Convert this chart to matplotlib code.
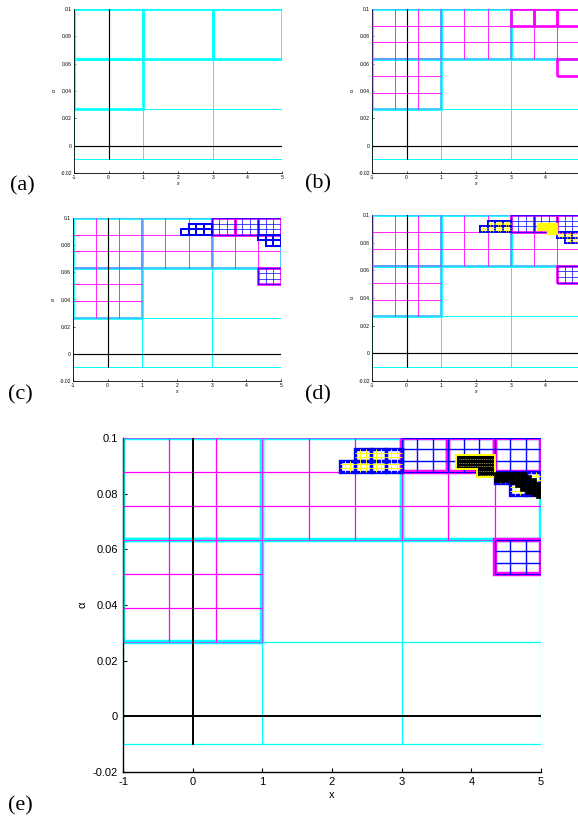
import numpy as np
import matplotlib
matplotlib.use("Agg")
import matplotlib.pyplot as plt
from matplotlib.collections import LineCollection
from matplotlib.patches import Rectangle

W, H = 578, 824

# ---------------- data ----------------
x_lo, x_hi = -1.0, 5.0          # level-0 domain
y_lo, y_hi = -0.01, 0.1
n0 = 3                           # level-0 cells per direction
ratio = 3                        # refinement ratio

xticks = [-1, 0, 1, 2, 3, 4, 5]
xticklabels = ["-1", "0", "1", "2", "3", "4", "5"]
yticks = [-0.02, 0, 0.02, 0.04, 0.06, 0.08, 0.1]
yticklabels = ["-0.02", "0", "0.02", "0.04", "0.06", "0.08", "0.1"]

# lower-left corners of level-1 patches (one level-0 cell each)
L1_x = [-1.0, -1.0, 1.0, 3.0]
L1_y = [0.026667, 0.063333, 0.063333, 0.063333]
# level-2 patches (one level-1 cell each)
L2_x = [3.0, 3.6667, 4.3333, 4.3333]
L2_y = [0.087778, 0.087778, 0.087778, 0.051111]
# level-3 patches (one level-2 cell each)
L3_x = [2.1111, 2.3333, 2.5556, 2.7778, 2.3333, 2.5556, 2.7778,
        4.3333, 4.5556, 4.7778, 4.5556, 4.7778]
L3_y = [0.087778, 0.087778, 0.087778, 0.087778, 0.091852, 0.091852, 0.091852,
        0.083704, 0.083704, 0.083704, 0.079630, 0.079630]
# level-4 patches (yellow framed region)
L4_x0 = [3.80, 4.09]
L4_x1 = [4.33, 4.33]
L4_y0 = [0.0891, 0.0862]
L4_y1 = [0.0934, 0.0891]
# finest (black) band on the right
band_x0 = [4.33, 4.56, 4.63, 4.70, 4.78, 4.85, 4.93]
band_x1 = [4.56, 4.63, 4.70, 4.78, 4.85, 4.93, 5.00]
band_y0 = [0.0843, 0.0835, 0.0823, 0.0811, 0.0800, 0.0792, 0.0784]
band_y1 = [0.0879, 0.0879, 0.0879, 0.0877, 0.0866, 0.0855, 0.0843]

panel_labels = ["(a)", "(b)", "(c)", "(d)", "(e)"]

# cell sizes per level
dx0 = (x_hi - x_lo) / n0
dy0 = (y_hi - y_lo) / n0
dxs = [dx0 / ratio**k for k in range(5)]
dys = [dy0 / ratio**k for k in range(5)]

CYAN, MAG, BLUE, YEL = "#00FFFF", "#FF00FF", "#0000FF", "#FFFF00"


def grid_lines(ax, xs, ys, dx, dy, n, color, lw, z, edge_lw=None):
    segs, esegs = [], []
    for x0, y0 in zip(xs, ys):
        for i in range(n + 1):
            xx = x0 + i * dx / n
            yy = y0 + i * dy / n
            tgt = esegs if i in (0, n) else segs
            tgt.append([(xx, y0), (xx, y0 + dy)])
            tgt.append([(x0, yy), (x0 + dx, yy)])
    ax.add_collection(LineCollection(segs, colors=color, linewidths=lw, zorder=z))
    if edge_lw:
        ax.add_collection(LineCollection(esegs, colors=color, linewidths=edge_lw, zorder=z))


def boxes(ax, xs, ys, dx, dy, color, lw, z):
    for x0, y0 in zip(xs, ys):
        ax.add_patch(Rectangle((x0, y0), dx, dy, fill=False, edgecolor=color,
                               linewidth=lw, zorder=z, joinstyle="miter"))


def panel(rect, stage, big, clip_right=False):
    ax = fig.add_axes(rect)
    s = 1.0 if big else 0.6
    # level-0 grid
    gx = [x_lo + i * dx0 for i in range(n0 + 1)]
    gy = [y_lo + i * dy0 for i in range(n0 + 1)]
    segs = [[(x, y_lo), (x, y_hi)] for x in gx] + [[(x_lo, y), (x_hi, y)] for y in gy]
    ax.add_collection(LineCollection(segs, colors=CYAN, linewidths=(0.9 if big else 0.7),
                                     zorder=1))
    # level-1 patches
    boxes(ax, L1_x, L1_y, dxs[0], dys[0], CYAN, 3.2 * s, 2)
    if stage >= 1:
        grid_lines(ax, L1_x, L1_y, dxs[0], dys[0], ratio, MAG, (0.9 if big else 0.6), 3,
                   edge_lw=(0.45 if big else 0.3))
        boxes(ax, L2_x, L2_y, dxs[1], dys[1], MAG, 3.2 * s, 4)
    if stage >= 2:
        grid_lines(ax, L2_x, L2_y, dxs[1], dys[1], ratio, BLUE, (1.0 if big else 0.5), 5,
                   edge_lw=(0.8 if big else 0.5))
        boxes(ax, L3_x, L3_y, dxs[2], dys[2], BLUE, 2.4 * s, 6)
    if stage >= 3:
        grid_lines(ax, L3_x, L3_y, dxs[2], dys[2], ratio, YEL, 0.7 * s, 7)
        for x0, x1, y0, y1 in zip(L4_x0, L4_x1, L4_y0, L4_y1):
            ax.add_patch(Rectangle((x0, y0), x1 - x0, y1 - y0, fill=(stage == 3),
                                   facecolor=YEL, edgecolor=YEL,
                                   linewidth=2.8 * s, zorder=8))
    if stage >= 4:
        for x0, x1, y0, y1 in zip(L4_x0, L4_x1, L4_y0, L4_y1):
            ax.add_patch(Rectangle((x0, y0), x1 - x0, y1 - y0, facecolor="black",
                                   edgecolor="none", zorder=9))
            ny = int(round((y1 - y0) / dys[3]))
            for j in range(ny):
                yy = y0 + (j + 0.5) * dys[3]
                ax.plot([x0 + 0.02, x1 - 0.02], [yy, yy], color="#b8b060", lw=0.7,
                        ls=(0, (0.8, 1.0)), zorder=10)
        for x0, x1, y0, y1 in zip(band_x0, band_x1, band_y0, band_y1):
            ax.add_patch(Rectangle((x0, y0), x1 - x0, y1 - y0, facecolor="black",
                                   edgecolor="black", linewidth=0.5, zorder=9))
    # coordinate axes
    ax.plot([0, 0], [y_lo, y_hi], color="black", lw=1.4 * s, zorder=11)
    ax.plot([x_lo, x_hi], [0, 0], color="black", lw=1.4 * s, zorder=11)

    ax.set_xlim(-1, 5)
    ax.set_ylim(-0.02, 0.1)
    ax.set_xticks(xticks)
    labs = list(xticklabels)
    if clip_right:
        labs[-1] = ""
    ax.set_xticklabels(labs)
    ax.set_yticks(yticks)
    ax.set_yticklabels(yticklabels)
    for sp in ["top", "right"]:
        ax.spines[sp].set_visible(False)
    for sp in ["left", "bottom"]:
        ax.spines[sp].set_linewidth(1.0 * s)
    fs = 8 if big else 3.6
    ax.tick_params(direction="in", length=3 if big else 1.5, width=0.8 * s,
                   labelsize=fs, pad=3.5 if big else 1.5)
    ax.set_xlabel("x", fontsize=fs, labelpad=2 if big else 1)
    ax.set_ylabel("α", fontsize=fs, labelpad=4 if big else 3)
    ax.set_facecolor("white")
    return ax


plt.rcParams["font.family"] = ["Liberation Sans", "DejaVu Sans"]
fig = plt.figure(figsize=(W / 100, H / 100), dpi=100)


def frac(left, top, right, bottom):
    return [left / W, 1 - bottom / H, (right - left) / W, (bottom - top) / H]


panel(frac(74, 9, 282, 173), 0, False)
panel(frac(372, 9, 580, 173), 1, False, clip_right=True)
panel(frac(73, 218, 281, 381), 2, False)
panel(frac(372, 215, 580, 381), 3, False, clip_right=True)
panel(frac(123, 438, 541, 772), 4, True)

lab_pos = [(10, 186), (305, 184), (8, 395), (305, 395), (8, 806)]
for lab, (px, py) in zip(panel_labels, lab_pos):
    fig.text(px / W, 1 - py / H, lab, fontsize=16, family="Liberation Serif",
             ha="left", va="center")

fig.savefig("out.png", dpi=100)
